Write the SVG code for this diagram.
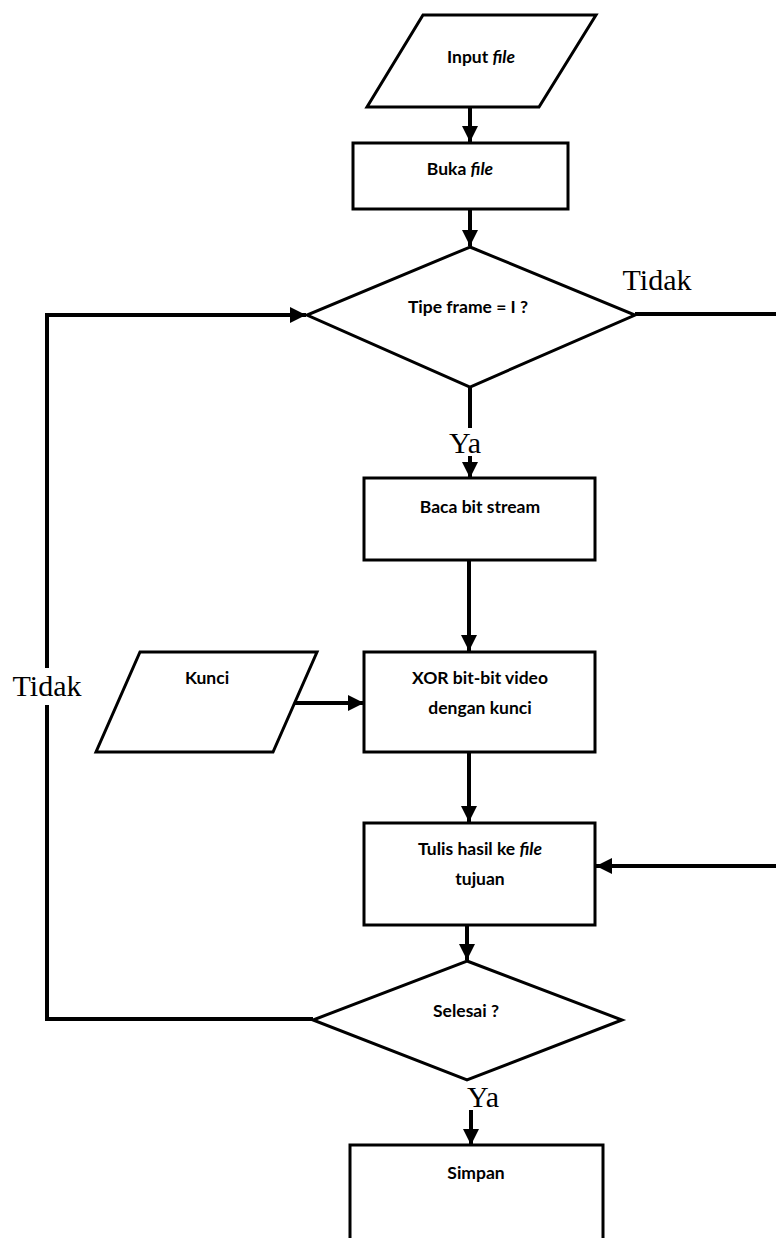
<svg xmlns="http://www.w3.org/2000/svg" width="776" height="1238" viewBox="0 0 776 1238">
  <defs>
    <style>
      .shape { fill: #ffffff; stroke: #000000; stroke-width: 3; stroke-linejoin: miter; }
      .conn { fill: none; stroke: #000000; stroke-width: 4; }
      .lbl { font-family: Lato, "Open Sans", "Liberation Sans", sans-serif; font-weight: bold; font-size: 17.5px; fill: #000000; text-anchor: middle; dominant-baseline: central; }
      .yn { font-family: "Liberation Serif", "DejaVu Serif", serif; font-size: 30px; fill: #000000; text-anchor: middle; }
    </style>
    <marker id="arrow" viewBox="0 0 10 10" refX="10" refY="5" markerWidth="4" markerHeight="4" markerUnits="strokeWidth" orient="auto">
      <path d="M0,0 L10,5 L0,10 Z" fill="#000000"/>
    </marker>
  </defs>

  <rect x="0" y="0" width="776" height="1238" fill="#ffffff"/>

  <!-- connectors -->
  <g id="connectors">
    <line class="conn" x1="470" y1="107" x2="470" y2="142" marker-end="url(#arrow)"/>
    <line class="conn" x1="470" y1="209" x2="470" y2="246" marker-end="url(#arrow)"/>
    <line class="conn" x1="470" y1="387" x2="470" y2="428"/>
    <line class="conn" x1="470" y1="456" x2="470" y2="478" marker-end="url(#arrow)"/>
    <line class="conn" x1="469" y1="560" x2="469" y2="651" marker-end="url(#arrow)"/>
    <line class="conn" x1="295" y1="703" x2="364" y2="703" marker-end="url(#arrow)"/>
    <line class="conn" x1="469" y1="752" x2="469" y2="822" marker-end="url(#arrow)"/>
    <line class="conn" x1="467" y1="925" x2="467" y2="960" marker-end="url(#arrow)"/>
    <line class="conn" x1="471" y1="1110" x2="471" y2="1145" marker-end="url(#arrow)"/>
    <!-- "Tidak" branch from the frame test to the write step -->
    <path class="conn" d="M635,314 L780,314 L780,866 L596,866" marker-end="url(#arrow)"/>
    <!-- loop back from "Selesai ?" to the frame test -->
    <path class="conn" d="M313,1019 L47,1019 L47,705"/>
    <path class="conn" d="M47,668 L47,315 L306,315" marker-end="url(#arrow)"/>
  </g>

  <!-- nodes -->
  <g id="input-file">
    <polygon class="shape" points="423,15 596,15 539,107 367,107"/>
    <text class="lbl" x="481" y="56">Input <tspan font-style="italic">file</tspan></text>
  </g>

  <g id="buka-file">
    <rect class="shape" x="353" y="143" width="215" height="66"/>
    <text class="lbl" x="460" y="168">Buka <tspan font-style="italic">file</tspan></text>
  </g>

  <g id="tipe-frame">
    <polygon class="shape" points="470,247 635,315 470,387 307,315"/>
    <text class="lbl" x="468" y="306">Tipe frame = I ?</text>
  </g>

  <g id="baca-bit-stream">
    <rect class="shape" x="364" y="478" width="231" height="82"/>
    <text class="lbl" x="480" y="506">Baca bit stream</text>
  </g>

  <g id="kunci">
    <polygon class="shape" points="140,652 317,652 273,752 96,752"/>
    <text class="lbl" x="207" y="677">Kunci</text>
  </g>

  <g id="xor">
    <rect class="shape" x="364" y="652" width="231" height="100"/>
    <text class="lbl" x="480" y="677">XOR bit-bit video</text>
    <text class="lbl" x="480" y="707">dengan kunci</text>
  </g>

  <g id="tulis-hasil">
    <rect class="shape" x="364" y="823" width="231" height="102"/>
    <text class="lbl" x="480" y="848">Tulis hasil ke <tspan font-style="italic">file</tspan></text>
    <text class="lbl" x="480" y="878">tujuan</text>
  </g>

  <g id="selesai">
    <polygon class="shape" points="467,961 622,1020 467,1080 313,1020"/>
    <text class="lbl" x="466" y="1010">Selesai ?</text>
  </g>

  <g id="simpan">
    <rect class="shape" x="350" y="1145" width="253" height="110"/>
    <text class="lbl" x="476" y="1172">Simpan</text>
  </g>

  <!-- branch labels -->
  <g id="labels">
    <text class="yn" x="657" y="290">Tidak</text>
    <text class="yn" x="465" y="453">Ya</text>
    <text class="yn" x="47" y="696">Tidak</text>
    <text class="yn" x="483" y="1107">Ya</text>
  </g>
</svg>
